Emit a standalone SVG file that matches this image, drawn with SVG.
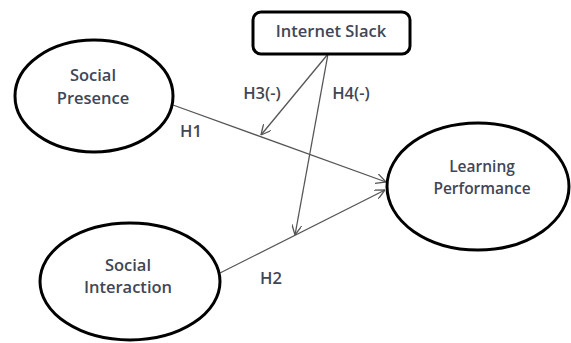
<svg xmlns="http://www.w3.org/2000/svg" width="571" height="343" viewBox="0 0 571 343">
<defs>
<marker id="arr" viewBox="0 0 10 10" refX="10" refY="5" markerWidth="10" markerHeight="10" markerUnits="userSpaceOnUse" orient="auto">
<path d="M0,0 L10,5 L0,10" fill="none" stroke="#555" stroke-width="1.3"/>
</marker>
<style>
.node{fill:#fff;stroke:#000;stroke-width:3}
.lbl{font-family:"Open Sans","Liberation Sans",sans-serif;font-size:16.5px;font-weight:600;fill:#414655;text-anchor:middle}
.sm{font-size:15.5px}
.edge{stroke:#555;stroke-width:1.3;fill:none;marker-end:url(#arr)}
</style>
</defs>
<rect width="571" height="343" fill="#fff"/>
<g id="connectors">
<line class="edge" x1="173" y1="105" x2="386" y2="182"/>
<line class="edge" x1="220" y1="273" x2="385" y2="190"/>
<line class="edge" x1="328" y1="54" x2="261" y2="135"/>
<line class="edge" x1="328" y1="54" x2="295" y2="235"/>
<text class="lbl" x="262" y="99">H3(-)</text>
<text class="lbl" x="351" y="99">H4(-)</text>
<text class="lbl" x="191" y="137">H1</text>
<text class="lbl" x="271" y="284">H2</text>
</g>
<g id="social-presence">
<ellipse class="node" cx="94" cy="96" rx="79" ry="56"/>
<text class="lbl" x="93" y="81">Social</text>
<text class="lbl" x="93" y="104">Presence</text>
</g>
<g id="internet-slack">
<rect class="node" x="253" y="12" width="157" height="42" rx="8" stroke-width="2.5"/>
<text class="lbl" x="331" y="37">Internet Slack</text>
</g>
<g id="social-interaction">
<ellipse class="node" cx="130" cy="281.5" rx="90" ry="58.5"/>
<text class="lbl" x="128" y="271">Social</text>
<text class="lbl" x="128" y="293">Interaction</text>
</g>
<g id="learning-performance">
<ellipse class="node" cx="478" cy="186.5" rx="91" ry="63.5"/>
<text class="lbl sm" x="482" y="172">Learning</text>
<text class="lbl sm" x="482" y="194">Performance</text>
</g>
</svg>
